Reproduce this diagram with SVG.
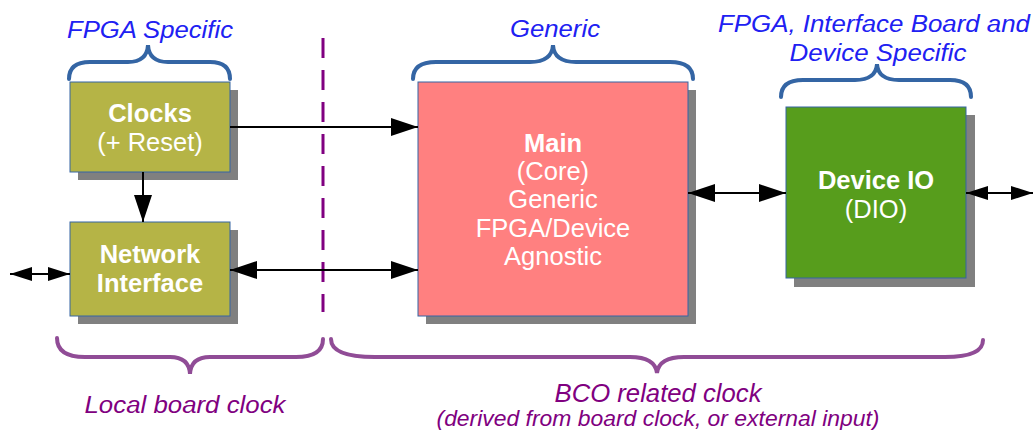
<svg xmlns="http://www.w3.org/2000/svg" width="1033" height="430" viewBox="0 0 1033 430">
<style>
.box{stroke:#3465a4;stroke-width:1}
.sh{fill:#808080}
.t{font-family:"Liberation Sans",Arial,sans-serif;fill:#fff;text-anchor:middle;font-size:25.5px}
.b{font-weight:bold}
.lbl{font-family:"Liberation Sans",Arial,sans-serif;font-style:italic;text-anchor:middle;font-size:23px}
.blue{fill:#2020f2}
.pur{fill:#800080}
.brace{fill:none;stroke:#3465a4;stroke-width:4;stroke-linecap:round}
.pbrace{fill:none;stroke:#904c96;stroke-width:4;stroke-linecap:round}
.c{fill:none;stroke:#000;stroke-width:2}
</style>
<defs>
<marker id="ae" markerUnits="userSpaceOnUse" markerWidth="30" markerHeight="20" refX="27" refY="9" orient="auto"><path d="M0,0 L27,9 L0,18 Z" fill="#000"/></marker>
<marker id="as" markerUnits="userSpaceOnUse" markerWidth="30" markerHeight="20" refX="0" refY="9" orient="auto"><path d="M27,0 L0,9 L27,18 Z" fill="#000"/></marker>
<marker id="se" markerUnits="userSpaceOnUse" markerWidth="24" markerHeight="16" refX="22" refY="7" orient="auto"><path d="M0,0 L22,7 L0,14 Z" fill="#000"/></marker>
<marker id="ss" markerUnits="userSpaceOnUse" markerWidth="24" markerHeight="16" refX="0" refY="7" orient="auto"><path d="M22,0 L0,7 L22,14 Z" fill="#000"/></marker>
</defs>

<line x1="323" y1="38" x2="323" y2="312" stroke="#800080" stroke-width="3" stroke-dasharray="20,12"/>

<path class="brace" d="M69,79 Q69,62 90,62 L128,62 Q147,62 148,45 Q149,62 168,62 L210,62 Q230,62 230,79"/>
<path class="brace" d="M413,79 Q413,62 436,62 L530,62 Q552,62 553,45 Q554,62 576,62 L670,62 Q693,62 693,79"/>
<path class="brace" d="M781,97 Q781,80 803,80 L855,80 Q876,80 877,64 Q878,80 899,80 L950,80 Q971,80 971,97"/>
<path class="pbrace" d="M57,338 Q57,357 85,357 L170,357 Q189,357 190,374 Q191,357 210,357 L296,357 Q323,357 323,339"/>
<path class="pbrace" d="M331,339 Q331,357 375,357 L630,357 Q655,357 657,373 Q659,357 684,357 L945,357 Q983,357 983,340"/>

<text class="lbl blue" x="150" y="38" textLength="166" lengthAdjust="spacingAndGlyphs">FPGA Specific</text>
<text class="lbl blue" x="555" y="37" textLength="90" lengthAdjust="spacingAndGlyphs">Generic</text>
<text class="lbl blue" x="874" y="32" textLength="312" lengthAdjust="spacingAndGlyphs">FPGA, Interface Board and</text>
<text class="lbl blue" x="878" y="61" textLength="177" lengthAdjust="spacingAndGlyphs">Device Specific</text>
<text class="lbl pur" x="185" y="413" textLength="201" lengthAdjust="spacingAndGlyphs">Local board clock</text>
<text class="lbl pur" x="658" y="402" style="font-size:25px" textLength="207" lengthAdjust="spacingAndGlyphs">BCO related clock</text>
<text class="lbl pur" x="658" y="426" style="font-size:22px" textLength="443" lengthAdjust="spacingAndGlyphs">(derived from board clock, or external input)</text>

<g id="clocks">
<rect class="sh" x="78" y="90" width="160" height="90"/>
<rect class="box" x="70" y="82" width="160" height="90" fill="#b5b446"/>
<text class="t b" x="150" y="122">Clocks</text>
<text class="t" x="150" y="151">(+ Reset)</text>
</g>
<g id="network">
<rect class="sh" x="78" y="230" width="160" height="94"/>
<rect class="box" x="70" y="222" width="160" height="94" fill="#b5b446"/>
<text class="t b" x="150" y="263">Network</text>
<text class="t b" x="150" y="292">Interface</text>
</g>
<g id="main">
<rect class="sh" x="426" y="90" width="270" height="234"/>
<rect class="box" x="418" y="82" width="270" height="234" fill="#ff8080"/>
<text class="t b" x="553" y="152">Main</text>
<text class="t" x="553" y="180">(Core)</text>
<text class="t" x="553" y="208">Generic</text>
<text class="t" x="553" y="237">FPGA/Device</text>
<text class="t" x="553" y="265">Agnostic</text>
</g>
<g id="dio">
<rect class="sh" x="794" y="115" width="181" height="172"/>
<rect class="box" x="786" y="107" width="180" height="171" fill="#579d1c"/>
<text class="t b" x="876" y="189">Device IO</text>
<text class="t" x="876" y="218">(DIO)</text>
</g>

<g id="connectors">
<line class="c" x1="230" y1="127" x2="418" y2="127" marker-end="url(#ae)"/>
<line class="c" x1="143" y1="172" x2="143" y2="222" marker-end="url(#ae)"/>
<line class="c" x1="230" y1="270" x2="418" y2="270" marker-start="url(#as)" marker-end="url(#ae)"/>
<line class="c" x1="10" y1="274" x2="70" y2="274" marker-start="url(#ss)" marker-end="url(#se)"/>
<line class="c" x1="688" y1="193" x2="786" y2="193" marker-start="url(#as)" marker-end="url(#ae)"/>
<line class="c" x1="966" y1="193" x2="1033" y2="193" marker-start="url(#ss)" marker-end="url(#se)"/>
</g>
</svg>
